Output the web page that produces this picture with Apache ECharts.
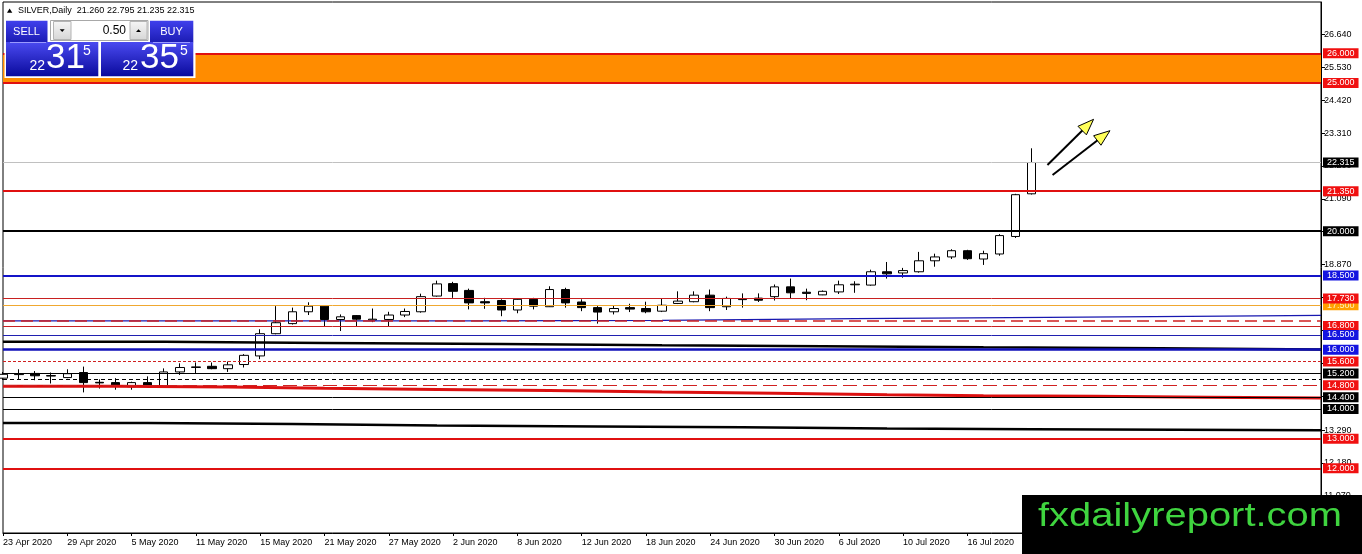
<!DOCTYPE html>
<html><head><meta charset="utf-8">
<script src="https://cdn.jsdelivr.net/npm/echarts@6/dist/echarts.min.js"></script>
<style>html,body{margin:0;padding:0;background:#fff}#c{width:1362px;height:554px}</style>
</head><body><div id="c"></div>
<script>
// ---------- DATA ----------
const dates = ['23 Apr 2020','24 Apr 2020','27 Apr 2020','28 Apr 2020','29 Apr 2020','30 Apr 2020',
'1 May 2020','4 May 2020','5 May 2020','6 May 2020','7 May 2020','8 May 2020','11 May 2020','12 May 2020','13 May 2020','14 May 2020','15 May 2020','18 May 2020','19 May 2020','20 May 2020','21 May 2020','22 May 2020','25 May 2020','26 May 2020','27 May 2020','28 May 2020','29 May 2020',
'1 Jun 2020','2 Jun 2020','3 Jun 2020','4 Jun 2020','5 Jun 2020','8 Jun 2020','9 Jun 2020','10 Jun 2020','11 Jun 2020','12 Jun 2020','15 Jun 2020','16 Jun 2020','17 Jun 2020','18 Jun 2020','19 Jun 2020','22 Jun 2020','23 Jun 2020','24 Jun 2020','25 Jun 2020','26 Jun 2020','29 Jun 2020','30 Jun 2020',
'1 Jul 2020','2 Jul 2020','3 Jul 2020','6 Jul 2020','7 Jul 2020','8 Jul 2020','9 Jul 2020','10 Jul 2020','13 Jul 2020','14 Jul 2020','15 Jul 2020','16 Jul 2020','17 Jul 2020','20 Jul 2020','21 Jul 2020','22 Jul 2020'];
const futureSlots = 18;

const opens  = [15.04,15.16,15.20,15.11,15.06,15.23,14.90,14.89,14.75,14.89,14.78,15.25,15.40,15.44,15.36,15.50,15.79,16.54,16.88,17.28,17.47,17.02,17.15,17.00,17.02,17.17,17.28,17.81,18.23,18.00,17.62,17.66,17.34,17.70,17.45,18.03,17.61,17.42,17.28,17.42,17.39,17.30,17.56,17.62,17.84,17.45,17.69,17.74,17.79,18.12,17.94,17.85,17.95,18.19,18.18,18.63,18.59,18.63,19.00,19.13,19.34,19.06,19.23,19.82,21.260];
const closes = [15.17,15.18,15.12,15.13,15.19,14.89,14.88,14.76,14.89,14.80,15.25,15.40,15.42,15.36,15.49,15.81,16.54,16.91,17.28,17.47,17.02,17.11,17.03,17.03,17.17,17.29,17.79,18.22,17.97,17.58,17.58,17.34,17.70,17.47,18.03,17.58,17.42,17.27,17.39,17.37,17.28,17.50,17.64,17.84,17.42,17.73,17.71,17.67,18.12,17.92,17.90,17.97,18.19,18.21,18.63,18.56,18.67,19.00,19.13,19.34,19.07,19.24,19.85,21.23,22.315];
const lows   = [14.98,14.98,14.97,14.86,15.04,14.56,14.69,14.65,14.65,14.72,14.76,15.15,15.20,15.34,15.25,15.40,15.68,16.52,16.85,17.17,16.78,16.63,16.78,16.93,16.78,17.10,17.25,17.79,17.75,17.36,17.38,17.13,17.23,17.36,17.44,17.42,17.30,16.88,17.19,17.27,17.23,17.27,17.54,17.60,17.30,17.34,17.42,17.61,17.66,17.73,17.67,17.84,17.88,17.92,18.16,18.40,18.43,18.60,18.80,19.06,19.03,18.86,19.17,19.77,21.235];
const highs  = [15.25,15.34,15.28,15.23,15.34,15.43,15.00,15.04,14.92,15.10,15.37,15.54,15.57,15.57,15.60,15.85,16.69,17.47,17.42,17.60,17.50,17.19,17.17,17.39,17.28,17.39,17.89,18.33,18.29,18.06,17.75,17.70,17.72,17.75,18.14,18.09,17.70,17.47,17.50,17.55,17.62,17.73,17.97,17.97,18.03,17.79,17.90,17.90,18.20,18.40,18.06,18.00,18.33,18.31,18.70,18.96,18.76,19.30,19.24,19.39,19.37,19.34,19.90,21.26,22.795];

// horizontal levels (prices)
const levelPrices = [26.000,25.000,22.315,21.350,20.000,18.500,17.500,17.730,16.980,16.800,16.500,16.000,15.600,15.200,15.000,14.800,14.400,14.000,13.000,12.000];

// stepped moving lines: start bar index and value of each step
const maUpperIdx  = [0,10,20,31,41,51,61,72];
const maUpperVal  = [16.27,16.23,16.19,16.15,16.12,16.08,16.05,16.01];
const maBlueIdx   = [0,29,41,53,65,76];
const maBlueVal   = [16.97,16.99,17.05,17.09,17.13,17.16];
const maRedIdx    = [0,7,14,20,27,34,41,48,55,61,68,75];
const maRedVal    = [14.77,14.74,14.70,14.66,14.62,14.57,14.53,14.48,14.45,14.43,14.40,14.37];
const maLowerIdx  = [0,9,18,27,37,46,55,64,73];
const maLowerVal  = [13.53,13.49,13.44,13.41,13.38,13.34,13.32,13.30,13.28];

// y-axis tick labels
const yTicks = [26.64,25.53,24.42,23.31,22.20,21.09,19.98,18.87,17.76,16.65,15.54,14.43,13.29,12.18,11.07];

// arrows: [startBar, startPrice, endBar, endPrice]
const arrows = [[64.98,22.232,67.85,23.773],[65.30,21.894,68.87,23.389]];

// ---------- STYLES ----------
const RED='#e81414', TAGRED='#f01010', TAGBLUE='#1414e0';
const levelStyles = [
 ['#e01010',2,'solid',TAGRED],
 ['#e01010',2,'solid',TAGRED],
 ['#c0c0c0',1,'solid','#000'],
 ['#e01010',2,'solid',TAGRED],
 ['#000000',2,'solid','#000'],
 ['#1414c8',2,'solid',TAGBLUE],
 ['#f0a830',1,'solid','#ffa000'],
 ['#c82020',1,'solid',TAGRED],
 ['#d02020',1.5,[12,6],null],
 ['#c82020',1,'solid',TAGRED],
 ['#2020b0',1,'solid',TAGBLUE],
 ['#1010b8',2.5,'solid',TAGBLUE],
 ['#d02020',1,[3,2],TAGRED],
 ['#000000',1,'solid','#000'],
 ['#000000',1,[4,3],null],
 ['#d02020',1,[14,6],TAGRED],
 ['#000000',1,'solid','#000'],
 ['#000000',1,'solid','#000'],
 ['#e01010',2,'solid',TAGRED],
 ['#e01010',2,'solid',TAGRED]
];

const FONT = 'Liberation Sans';
const categories = dates.concat(Array(futureSlots).fill(''));
const lastIdx = categories.length - 1;
const candles = opens.map((o,i)=>[o, closes[i], lows[i], highs[i]]);
const toSteps = (idx, vals) => idx.map((i,k)=>[i, vals[k]]).concat([[lastIdx, vals[vals.length-1]]]);

const markLineData = levelPrices.map((p,i)=>{
  const s = levelStyles[i];
  return {
    yAxis: p,
    lineStyle: {color: s[0], width: s[1], type: s[2]},
    label: s[3] ? {show:true, position:'end', distance:2, formatter: ()=>p.toFixed(3),
      color: s[3]==='#ffa000' ? '#fff2c0' : '#fff', backgroundColor: s[3], padding:[1,4,0,4],
      fontSize:9, fontFamily:FONT, lineHeight:9} : {show:false}
  };
});

const grad = (a,b)=>new echarts.graphic.LinearGradient(0,0,0,1,[{offset:0,color:a},{offset:1,color:b}]);
const btnGrad = ()=>grad('#4040ec','#1c1cb4');
const boxGrad = ()=>grad('#4a4af0','#0a0a9c');
const greyGrad = ()=>grad('#f6f6f6','#d6d6d6');

const graphics = [
  {type:'polygon', z:100, shape:{points:[[7,12.7],[12.3,12.7],[9.6,8.6]]}, style:{fill:'#000'}},
  {type:'text', z:100, x:18, y:10.7, style:{text:'SILVER,Daily  21.260 22.795 21.235 22.315', fill:'#000', font:'9px "'+FONT+'"', verticalAlign:'middle'}},
  {type:'rect', z:100, shape:{x:4.5,y:19,width:191,height:59}, style:{fill:'#fff'}},
  {type:'rect', z:101, shape:{x:6,y:20.7,width:41.5,height:21.5}, style:{fill:btnGrad()}},
  {type:'rect', z:101, shape:{x:6,y:42,width:92.3,height:34.3}, style:{fill:boxGrad()}},
  {type:'rect', z:101, shape:{x:150,y:20.7,width:43.3,height:21.5}, style:{fill:btnGrad()}},
  {type:'rect', z:101, shape:{x:101,y:42,width:92.3,height:34.3}, style:{fill:boxGrad()}},
  {type:'line', z:102, shape:{x1:10,y1:42.5,x2:46,y2:42.5}, style:{stroke:'#9a9aff', lineWidth:1}},
  {type:'line', z:102, shape:{x1:153,y1:42.5,x2:190,y2:42.5}, style:{stroke:'#9a9aff', lineWidth:1}},
  {type:'rect', z:101, shape:{x:50.5,y:20.5,width:97.5,height:20}, style:{fill:'#fff', stroke:'#a8a8a8', lineWidth:1}},
  {type:'rect', z:102, shape:{x:53.5,y:21.5,width:17.5,height:18}, style:{fill:greyGrad(), stroke:'#b4b4b4', lineWidth:1}},
  {type:'polygon', z:103, shape:{points:[[59.7,29.2],[64.7,29.2],[62.2,32]]}, style:{fill:'#000'}},
  {type:'rect', z:102, shape:{x:130,y:21.5,width:17,height:18}, style:{fill:greyGrad(), stroke:'#b4b4b4', lineWidth:1}},
  {type:'polygon', z:103, shape:{points:[[136,32],[141,32],[138.5,29.2]]}, style:{fill:'#000'}},
  {type:'text', z:103, x:126, y:31, style:{text:'0.50', fill:'#000', font:'12px "'+FONT+'"', align:'right', verticalAlign:'middle'}},
  {type:'text', z:103, x:26.5, y:31.5, style:{text:'SELL', fill:'#fff', font:'11px "'+FONT+'"', align:'center', verticalAlign:'middle'}},
  {type:'text', z:103, x:171.5, y:31.5, style:{text:'BUY', fill:'#fff', font:'11px "'+FONT+'"', align:'center', verticalAlign:'middle'}},
  {type:'text', z:103, x:29.5, y:66.5, style:{text:'22', fill:'#fff', font:'14px "'+FONT+'"', verticalAlign:'middle'}},
  {type:'text', z:103, x:46, y:58.5, style:{text:'31', fill:'#fff', font:'35px "'+FONT+'"', verticalAlign:'middle'}},
  {type:'text', z:103, x:83, y:51.5, style:{text:'5', fill:'#fff', font:'14px "'+FONT+'"', verticalAlign:'middle'}},
  {type:'text', z:103, x:122.5, y:66.5, style:{text:'22', fill:'#fff', font:'14px "'+FONT+'"', verticalAlign:'middle'}},
  {type:'text', z:103, x:140, y:58.5, style:{text:'35', fill:'#fff', font:'35px "'+FONT+'"', verticalAlign:'middle'}},
  {type:'text', z:103, x:180, y:51.5, style:{text:'5', fill:'#fff', font:'14px "'+FONT+'"', verticalAlign:'middle'}},
  {type:'rect', z:110, shape:{x:1022,y:495,width:340,height:59}, style:{fill:'#000'}},
  {type:'text', z:111, x:1038, y:516.5, scaleX:1.21, style:{text:'fxdailyreport.com', fill:'#3fd43f', font:'33px "'+FONT+'"', verticalAlign:'middle'}}
];

const chart = echarts.init(document.getElementById('c'));
chart.setOption({
  animation:false,
  textStyle:{fontFamily:FONT},
  grid:{left:3, right:41, top:2, bottom:21, show:true, borderColor:'#000', borderWidth:1, backgroundColor:'#fff'},
  xAxis:{type:'category', data:categories, boundaryGap:false,
    axisLine:{lineStyle:{color:'#000', width:1}},
    axisTick:{show:true, interval:3, length:3, lineStyle:{color:'#000'}},
    axisLabel:{interval:3, align:'left', color:'#000', fontSize:9, fontFamily:FONT, margin:5},
    splitLine:{show:false}},
  yAxis:{type:'value', position:'right', min:9.816, max:27.731,
    axisLine:{show:true, lineStyle:{color:'#000', width:1}},
    axisTick:{show:true, length:4, customValues:yTicks, lineStyle:{color:'#000'}},
    axisLabel:{customValues:yTicks, formatter:v=>Number(v).toFixed(3), color:'#000', fontSize:9, fontFamily:FONT, margin:3},
    splitLine:{show:false}},
  series:[
    {type:'candlestick', data:candles, barWidth:9, z:2,
      itemStyle:{color:'#fff', color0:'#000', borderColor:'#000', borderColor0:'#000', borderWidth:1},
      markArea:{silent:true, itemStyle:{color:'#ff8c00'}, data:[[{yAxis:25},{yAxis:26}]]}},
    {type:'line', data:toSteps(maLowerIdx, maLowerVal), step:'end', symbol:'none', z:3,
      lineStyle:{color:'#000', width:2.5}},
    {type:'line', data:toSteps(maRedIdx, maRedVal), step:'end', symbol:'none', z:3,
      lineStyle:{color:'#dc1010', width:3}},
    {type:'line', data:toSteps(maUpperIdx, maUpperVal), step:'end', symbol:'none', z:3,
      lineStyle:{color:'#000', width:2.5}},
    {type:'line', data:toSteps(maBlueIdx, maBlueVal), step:'end', symbol:'none', z:4,
      lineStyle:{color:'#1818b0', width:1.2},
      markLine:{silent:true, symbol:['none','none'], data:markLineData}},
    {type:'custom', z:6, data:arrows.map(a=>[0,0].concat(a)),
      encode:{x:0, y:1},
      renderItem:(params, api)=>{
        const b0 = api.coord([0, api.value(3)]), b1 = api.coord([0, api.value(5)]);
        const step = api.coord([1, api.value(3)])[0] - b0[0];
        const p0 = [b0[0] + api.value(2)*step, b0[1]];
        const p1 = [b1[0] + api.value(4)*step, b1[1]];
        const dx=p1[0]-p0[0], dy=p1[1]-p0[1], L=Math.hypot(dx,dy), ux=dx/L, uy=dy/L;
        const hl=16, hw=6;
        const base=[p1[0]-ux*hl, p1[1]-uy*hl];
        const l=[base[0]-uy*hw, base[1]+ux*hw], r=[base[0]+uy*hw, base[1]-ux*hw];
        return {type:'group', children:[
          {type:'line', shape:{x1:p0[0],y1:p0[1],x2:base[0]+ux*2,y2:base[1]+uy*2}, style:{stroke:'#000', lineWidth:2}},
          {type:'polygon', shape:{points:[p1,l,r]}, style:{fill:'#ffff5a', stroke:'#000', lineWidth:1}}
        ]};
      }}
  ],
  graphic: graphics
});
</script></body></html>
